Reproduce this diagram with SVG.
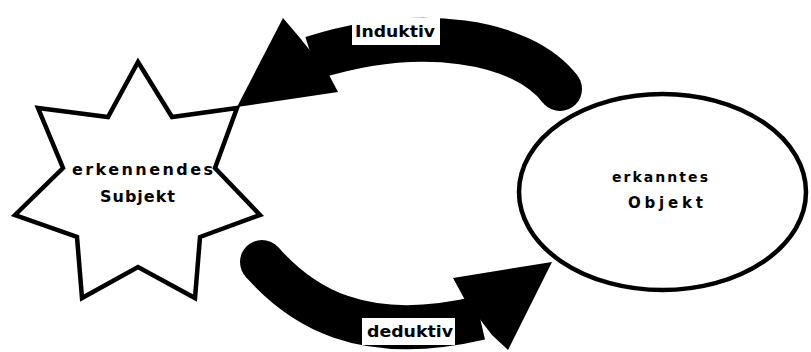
<svg xmlns="http://www.w3.org/2000/svg" width="811" height="352" viewBox="0 0 811 352">
<style>
.node{fill:#fff;stroke:#000;stroke-width:4.5;stroke-linejoin:miter}
.band{fill:none;stroke:#000;stroke-width:44}
.head{fill:#000;stroke:none}
.lbl{font-family:"DejaVu Sans","Liberation Sans",sans-serif;font-weight:bold;fill:#000}
.box{fill:#fff;stroke:none}
</style>
<rect width="811" height="352" fill="#fff"/>
<g id="connectors">
<g id="induktiv">
<path class="band" d="M560 89 C522 40 420 24 312 58" stroke-linecap="butt"/>
<circle cx="560" cy="89" r="22" fill="#000"/>
<polygon class="head" points="237,107 283,18 300,38 328,73 338,92"/>
<rect class="box" x="352" y="18" width="88" height="27"/>
<text class="lbl" x="355" y="37" font-size="16" textLength="80" lengthAdjust="spacingAndGlyphs">Induktiv</text>
</g>
<g id="deduktiv">
<path class="band" d="M262 262 C300 305 360 346 480 318"/>
<circle cx="262" cy="262" r="22" fill="#000"/>
<polygon class="head" points="552,262 453,278 465,300 492,335 508,350"/>
<rect class="box" x="362" y="318" width="93" height="27"/>
<text class="lbl" x="367" y="337" font-size="16" textLength="86" lengthAdjust="spacingAndGlyphs">deduktiv</text>
</g>
</g>
<g id="subjekt">
<polygon class="node" points="138,62 172,117 237,108 215,168 260,215 200,237 195,298 138,267 82,298 77,237 15,215 63,168 38,108 108,117"/>
<text class="lbl" x="72" y="175" font-size="16" textLength="141" lengthAdjust="spacing">erkennendes</text>
<text class="lbl" x="100" y="202" font-size="16" textLength="75" lengthAdjust="spacing">Subjekt</text>
</g>
<g id="objekt">
<ellipse class="node" cx="662.5" cy="192" rx="143.5" ry="98"/>
<text class="lbl" x="612" y="182" font-size="14" textLength="96" lengthAdjust="spacing">erkanntes</text>
<text class="lbl" x="628" y="208" font-size="15" textLength="75" lengthAdjust="spacing">Objekt</text>
</g>
</svg>
